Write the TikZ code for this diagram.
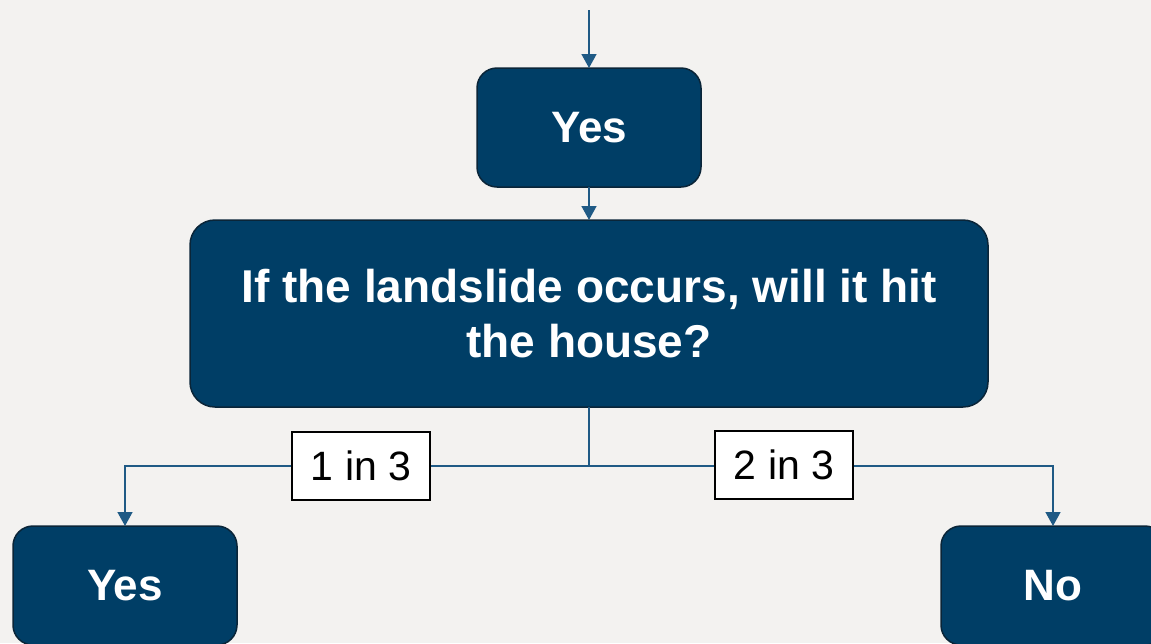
\documentclass[tikz,border=0pt]{standalone}
\usepackage{fontspec}
\setmainfont{Liberation Sans}
\usetikzlibrary{arrows.meta}
\definecolor{bg}{HTML}{F3F2F0}
\definecolor{navy}{HTML}{003E66}
\definecolor{navyedge}{HTML}{0A2538}
\definecolor{conn}{HTML}{1F5A85}
\tikzset{
  box/.style={draw=navyedge, line width=1.5pt, fill=navy, rounded corners=20pt,
    text=white, font=\fontsize{44}{55}\selectfont\bfseries, align=center,
    inner sep=0pt, outer sep=0pt},
  lbl/.style={draw=black, line width=1.2pt, fill=white, font=\fontsize{41}{48}\selectfont,
    inner sep=0pt, outer sep=0pt, minimum width=138pt, minimum height=68pt},
  conn/.style={draw=conn, line width=1.5pt},
  arr/.style={conn, -{Triangle[width=15pt,length=14pt]}}
}
\begin{document}
\begin{tikzpicture}[x=1pt,y=-1pt]
\fill[bg] (0,0) rectangle (1151,643);
\useasboundingbox (0,0) rectangle (1151,643);
\clip (0,0) rectangle (1151,643);
\node[box, minimum width=224pt, minimum height=119pt] (top) at (589,127.5) {Yes};
\node[box, rounded corners=25pt, minimum width=798pt, minimum height=187pt,
  font=\fontsize{46}{55}\selectfont\bfseries] (q) at (589,313.5)
  {If the landslide occurs, will it hit\\the house?};
\node[box, minimum width=224pt, minimum height=119pt] (yes) at (125,585.5) {Yes};
\node[box, minimum width=224pt, minimum height=119pt] (no) at (1053,585.5) {No};
\coordinate (start) at (589,10);
\coordinate (split) at (589,466);
\coordinate (lc) at (125,466);
\coordinate (rc) at (1053,466);
\draw[arr] (start) -- (top.north);
\draw[arr] (top.south) -- (q.north);
\draw[conn] (q.south) -- (split);
\draw[arr] (split) -- (lc) -- (yes.north);
\draw[arr] (split) -- (rc) -- (no.north);
\node[lbl] (l1) at (361,466) {1 in 3};
\node[lbl] (l2) at (784,465) {2 in 3};
\end{tikzpicture}
\end{document}
